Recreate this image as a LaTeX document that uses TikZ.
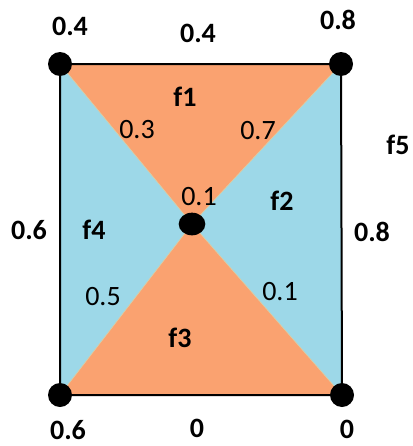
\documentclass[tikz,border=0pt]{standalone}
\usepackage{fontspec}
\setmainfont{Carlito}
\usetikzlibrary{shapes.geometric}
\definecolor{faceorange}{RGB}{250,162,112}
\definecolor{faceblue}{RGB}{157,216,232}
\definecolor{seam}{RGB}{215,205,165}
\begin{document}
\begin{tikzpicture}[x=0.75pt,y=-0.75pt,
  dot/.style={circle,fill=black,inner sep=0pt,minimum size=18pt},
  vlab/.style={font=\fontsize{21}{23}\selectfont\bfseries,inner sep=0pt},
  ilab/.style={font=\fontsize{21}{23}\selectfont,inner sep=0pt},
  flab/.style={font=\fontsize{21}{23}\selectfont\bfseries,inner sep=0pt}]
\useasboundingbox (0,0) rectangle (412,446);
\coordinate (tl) at (60,64);
\coordinate (tr) at (341,64);
\coordinate (bl) at (60,395);
\coordinate (br) at (342,395);
\coordinate (c) at (192,224);
% faces
\fill[faceblue] (tl) -- (c) -- (bl) -- cycle;
\fill[faceblue] (tr) -- (c) -- (br) -- cycle;
\fill[faceorange] (tl) -- (tr) -- (c) -- cycle;
\fill[faceorange] (bl) -- (br) -- (c) -- cycle;
\draw[seam,line width=0.5pt] (tl) -- (c) -- (br) (tr) -- (c) -- (bl);
\draw[black,line width=1.5pt] (tl) -- (tr) -- (br) -- (bl) -- cycle;
% vertices
\node[dot] (vtl) at (tl) {};
\node[dot] (vtr) at (tr) {};
\node[dot] (vbl) at (bl) {};
\node[dot] (vbr) at (br) {};
\node[ellipse,fill=black,inner sep=0pt,minimum width=20pt,minimum height=17pt] (vc) at (c) {};
% labels
\node[vlab] (l1) at (70,26) {0.4};
\node[vlab] (l2) at (198,33) {0.4};
\node[vlab] (l3) at (338,20) {0.8};
\node[flab] (f1) at (185,97) {f1};
\node[ilab] (l4) at (137,130) {0.3};
\node[ilab] (l5) at (258,131) {0.7};
\node[flab] (f5) at (398,145) {f5};
\node[ilab] (l6) at (199,197) {0.1};
\node[flab] (f2) at (282,201) {f2};
\node[vlab] (l7) at (29,230) {0.6};
\node[flab] (f4) at (94,230) {f4};
\node[vlab] (l8) at (372,232) {0.8};
\node[ilab] (l9) at (103,297) {0.5};
\node[ilab] (l10) at (280,292) {0.1};
\node[flab] (f3) at (180,338) {f3};
\node[vlab] (l11) at (68,430) {0.6};
\node[vlab] (l12) at (197,428) {0};
\node[vlab] (l13) at (347,429) {0};
\end{tikzpicture}
\end{document}
